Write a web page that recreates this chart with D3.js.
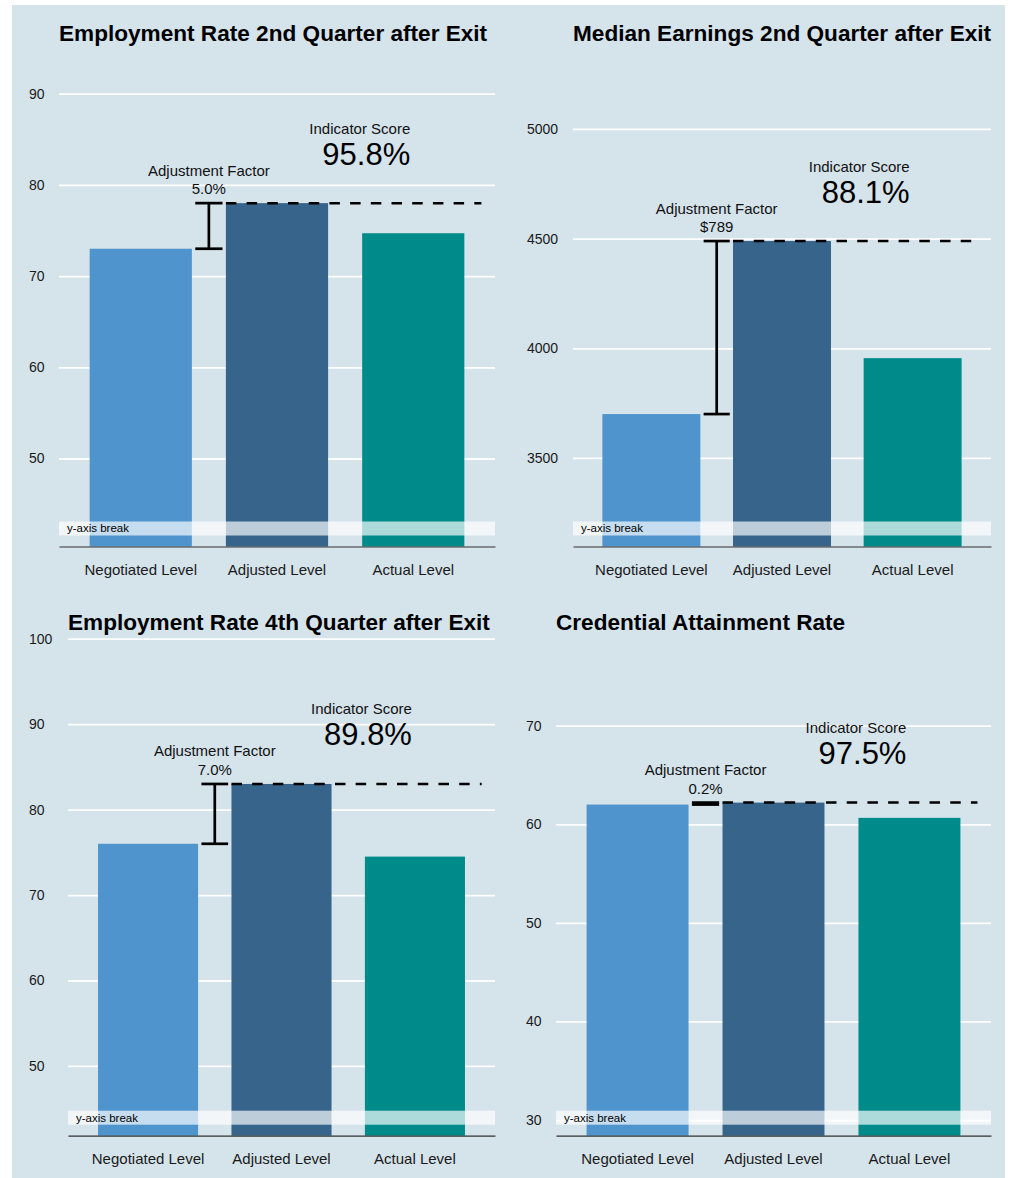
<!DOCTYPE html>
<html>
<head>
<meta charset="utf-8">
<script src="https://cdn.jsdelivr.net/npm/d3@7"></script>
<style>
  body { margin: 0; background: #ffffff; }
  svg { display: block; }
  text { font-family: "Liberation Sans", Arial, Helvetica, sans-serif; }
</style>
</head>
<body>
<svg id="chart" width="1011" height="1178"></svg>
<script>
// Performance indicators: negotiated, adjusted and actual levels
const categories = ["Negotiated Level", "Adjusted Level", "Actual Level"];
const titles = [
  "Employment Rate 2nd Quarter after Exit",
  "Median Earnings 2nd Quarter after Exit",
  "Employment Rate 4th Quarter after Exit",
  "Credential Attainment Rate"
];
const negotiated = [73.0, 3700, 76.0, 62.0];
const adjusted   = [78.0, 4489, 83.0, 62.2];
const actual     = [74.7, 3955, 74.5, 60.65];
const isDollar   = [false, true, false, false];
const yTicks = [
  [50, 60, 70, 80, 90],
  [3500, 4000, 4500, 5000],
  [50, 60, 70, 80, 90, 100],
  [30, 40, 50, 60, 70]
];
const barColors = ["#4f94cd", "#36648b", "#008b8b"];

// Layout of the four panels (pixel frames and visible value windows)
const panels = [
  { x0: 59,  x1: 495, bottom: 546.5,  top: 70.9,  domain: [40.35, 92.5],  titleY: 41,  tickX: 29 },
  { x0: 573, x1: 991, bottom: 546.5,  top: 85.1,  domain: [3096.2, 5200], titleY: 41,  tickX: 527 },
  { x0: 68,  x1: 495, bottom: 1135.7, top: 621.6, domain: [41.84, 102],   titleY: 630, tickX: 29 },
  { x0: 556, x1: 991, bottom: 1135.7, top: 676.4, domain: [28.41, 75],    titleY: 630, tickX: 526 }
];

const svg = d3.select("#chart");

svg.append("rect")
  .attr("x", 12).attr("y", 5)
  .attr("width", 993).attr("height", 1173)
  .attr("fill", "#d5e3eb");

const fmtPct = d3.format(".1f");
const fmtDollar = d3.format(",.0f");

panels.forEach((p, i) => {
  const g = svg.append("g");
  const x = d3.scaleBand()
    .domain(categories)
    .range([p.x0, p.x1])
    .paddingInner(0.25)
    .paddingOuter(0.225);
  const step = x.step();
  const cx = c => x(c) + x.bandwidth() / 2;
  const y = d3.scaleLinear().domain(p.domain).range([p.bottom, p.top]);

  const values = [negotiated[i], adjusted[i], actual[i]];

  // title
  g.append("text")
    .attr("x", p.x0).attr("y", p.titleY)
    .attr("font-size", 22.6).attr("font-weight", "bold")
    .attr("fill", "#000")
    .text(titles[i]);

  // horizontal gridlines and tick labels
  const gy = g.append("g")
    .attr("transform", `translate(${p.x0},0)`)
    .call(d3.axisLeft(y).tickValues(yTicks[i]).tickSize(-(p.x1 - p.x0)).tickFormat(d3.format("d")));
  gy.select(".domain").remove();
  gy.selectAll(".tick line").attr("stroke", "#ffffff").attr("stroke-width", 1.8);
  gy.selectAll(".tick text")
    .attr("x", p.tickX - p.x0)
    .attr("text-anchor", "start")
    .attr("font-size", 14)
    .attr("font-family", null)
    .attr("fill", "#1a1a1a");
  gy.attr("font-family", null).attr("font-size", null);

  // bars
  g.selectAll("rect.bar")
    .data(categories.map((c, k) => ({ c, v: values[k], k })))
    .join("rect")
    .attr("class", "bar")
    .attr("x", d => x(d.c))
    .attr("width", x.bandwidth())
    .attr("y", d => y(d.v))
    .attr("height", d => p.bottom - y(d.v))
    .attr("fill", d => barColors[d.k]);

  // y-axis break band
  g.append("rect")
    .attr("x", p.x0).attr("y", p.bottom - 25)
    .attr("width", p.x1 - p.x0).attr("height", 14)
    .attr("fill", "#ffffff").attr("fill-opacity", 0.68);
  g.append("text")
    .attr("x", p.x0 + 8).attr("y", p.bottom - 14.2)
    .attr("font-size", 11.5).attr("fill", "#000")
    .text("y-axis break");

  // x axis
  const gx = g.append("g")
    .attr("transform", `translate(0,${p.bottom})`)
    .call(d3.axisBottom(x).tickSize(0).tickSizeOuter(0).tickPadding(18));
  gx.attr("font-family", null).attr("font-size", null);
  gx.select(".domain").attr("stroke", "#333").attr("stroke-width", 1.2);
  gx.selectAll(".tick text").attr("font-size", 15).attr("fill", "#1a1a1a");

  // adjustment factor error bar
  const xe = (cx(categories[0]) + cx(categories[1])) / 2;
  const cap = 0.1 * step;
  const yN = y(negotiated[i]);
  const yA = y(adjusted[i]);
  const eb = g.append("g").attr("stroke", "#000").attr("stroke-width", 2.7);
  eb.append("line").attr("x1", xe).attr("x2", xe).attr("y1", yN).attr("y2", yA);
  eb.append("line").attr("x1", xe - cap).attr("x2", xe + cap).attr("y1", yN).attr("y2", yN);
  eb.append("line").attr("x1", xe - cap).attr("x2", xe + cap).attr("y1", yA).attr("y2", yA);

  // dashed reference at the adjusted level
  g.append("line")
    .attr("x1", x(categories[1]))
    .attr("x2", cx(categories[2]) + 0.5 * step)
    .attr("y1", yA).attr("y2", yA)
    .attr("stroke", "#000").attr("stroke-width", 2.5)
    .attr("stroke-dasharray", "10.5,10.2");

  // annotations
  const diff = adjusted[i] - negotiated[i];
  const adjLabel = isDollar[i] ? "$" + fmtDollar(diff) : fmtPct(diff) + "%";
  const score = fmtPct(actual[i] / adjusted[i] * 100) + "%";

  g.append("text")
    .attr("x", xe).attr("y", yA - 27.5)
    .attr("text-anchor", "middle").attr("font-size", 15).attr("fill", "#111")
    .text("Adjustment Factor");
  g.append("text")
    .attr("x", xe).attr("y", yA - 9)
    .attr("text-anchor", "middle").attr("font-size", 15).attr("fill", "#111")
    .text(adjLabel);

  const xs = cx(categories[2]) - 3;
  g.append("text")
    .attr("x", xs).attr("y", yA - 69.5)
    .attr("text-anchor", "end").attr("font-size", 15).attr("fill", "#111")
    .text("Indicator Score");
  g.append("text")
    .attr("x", xs).attr("y", yA - 38.5)
    .attr("text-anchor", "end").attr("font-size", 31).attr("fill", "#000")
    .text(score);
});
</script>
</body>
</html>
